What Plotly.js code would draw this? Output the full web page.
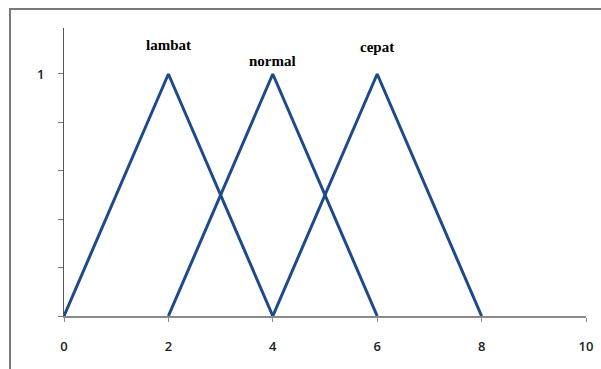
<!DOCTYPE html>
<html><head><meta charset="utf-8">
<script src="https://cdn.plot.ly/plotly-3.0.1.min.js"></script>
<style>html,body{margin:0;padding:0;background:#fff;}#c{width:601px;height:369px;}</style>
</head><body><div id="c"></div>
<script>
var lambatX = [0, 2, 4];
var lambatY = [0, 1, 0];
var normalX = [2, 4, 6];
var normalY = [0, 1, 0];
var cepatX = [4, 6, 8];
var cepatY = [0, 1, 0];
var labels = ["lambat", "normal", "cepat"];
var labelX = [2, 4, 6];
var labelY = [1.12, 1.055, 1.11];
var xTicks = [0, 2, 4, 6, 8, 10];
var yTicks = [0, 0.2, 0.4, 0.6, 0.8, 1];
var yTickText = ["", "", "", "", "", "1"];

var lineStyle = {color: "#1f4a8a", width: 3};
var traces = [
  {x: lambatX, y: lambatY, mode: "lines", line: lineStyle, hoverinfo: "none"},
  {x: normalX, y: normalY, mode: "lines", line: lineStyle, hoverinfo: "none"},
  {x: cepatX, y: cepatY, mode: "lines", line: lineStyle, hoverinfo: "none"}
];
var annotations = labels.map(function(t, i){
  return {x: labelX[i], y: labelY[i], xref: "x", yref: "y", text: "<b>" + t + "</b>",
    showarrow: false, font: {family: "Liberation Serif", size: 15, color: "#000"}};
});
var tickFont = {family: "Open Sans", size: 13, color: "#222222", weight: 600};
var layout = {
  width: 601, height: 369,
  margin: {l: 64, r: 15, t: 28, b: 53},
  paper_bgcolor: "#fff", plot_bgcolor: "#fff",
  showlegend: false,
  font: {color: "#222222"},
  xaxis: {range: [0, 10], tickvals: xTicks, ticktext: xTicks.map(String),
    showgrid: false, zeroline: false, showline: true, linecolor: "#8a8a8a", linewidth: 2,
    ticks: "outside", ticklen: 4, tickcolor: "#8a8a8a", ticklabelstandoff: 13,
    tickfont: tickFont, fixedrange: true},
  yaxis: {range: [0, 1.19], tickvals: yTicks, ticktext: yTickText,
    showgrid: false, zeroline: false, showline: true, linecolor: "#555", linewidth: 1,
    ticks: "outside", ticklen: 5, tickcolor: "#777", ticklabelstandoff: 11,
    tickfont: tickFont, fixedrange: true},
  annotations: annotations,
  shapes: [{type: "rect", xref: "paper", yref: "paper",
    x0: (10 - 64) / 522, x1: 1.1, y0: -0.3, y1: (316 - 9) / 288,
    line: {color: "#7a7a7a", width: 2}, fillcolor: "rgba(0,0,0,0)", layer: "below"}]
};
Plotly.newPlot("c", traces, layout, {displayModeBar: false, staticPlot: true});
</script></body></html>
